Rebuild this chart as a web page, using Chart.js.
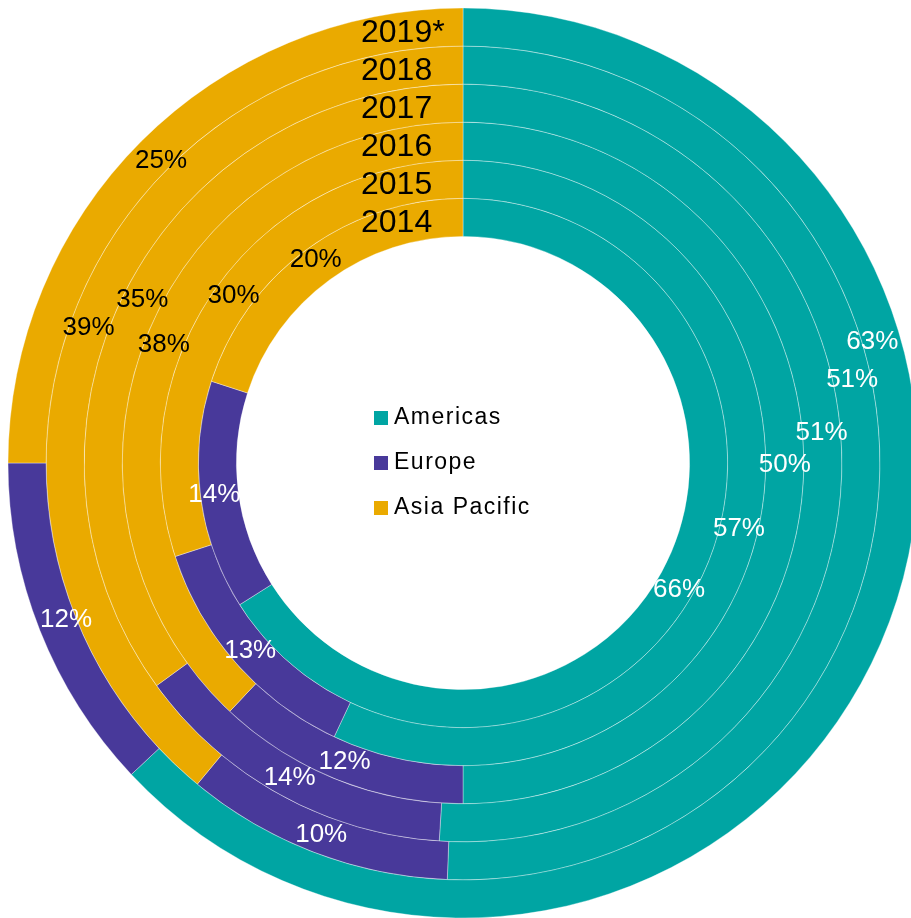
<!DOCTYPE html>
<html>
<head>
<meta charset="utf-8">
<script src="https://cdn.jsdelivr.net/npm/chart.js@4/dist/chart.umd.min.js"></script>
<style>
    html, body { margin: 0; padding: 0; overflow: hidden; background: #fff; }
    #chart { position: absolute; left: 0; top: 0; }
</style>
</head>
<body>
<canvas id="chart" width="926" height="926"></canvas>
<script>
// one ring per year, innermost ring first
const years = ['2014', '2015', '2016', '2017', '2018', '2019*'];
const regions = ['Americas', 'Europe', 'Asia Pacific'];

const americas = [66, 57, 50, 51, 50.6, 63];
const europe = [14, 13, 12, 14, 10.4, 12];
const asiaPacific = [20, 30, 38, 35, 39, 25];

const colors = ['#00a5a3', '#48399a', '#eaaa00'];
const labelColors = ['#ffffff', '#ffffff', '#000000'];

// where along each Americas arc the % label sits (0..1), the others sit in the middle
const americasLabelAt = [0.507, 0.504, 0.502, 0.464, 0.428, 0.324];
// small radial nudge of the % labels per ring, px (outer ring labels are pulled in)
const labelShift = [5, 0, 0, 0, 0, -9];

const FONT = '"Liberation Sans", Arial, sans-serif';

// chart.js draws dataset 0 as the outer ring, so go from 2019* inwards
const datasets = [];
for (let i = years.length - 1; i >= 0; i--) {
    datasets.push({
        label: years[i],
        ring: i,
        data: [americas[i], europe[i], asiaPacific[i]],
        backgroundColor: colors,
        borderColor: 'rgba(255,255,255,0.35)',
        borderWidth: 1,
        labelAt: [americasLabelAt[i], 0.5, 0.5]
    });
}

const ringLabels = {
    id: 'ringLabels',
    afterDatasetsDraw(chart) {
        const ctx = chart.ctx;
        const inner = chart.getDatasetMeta(chart.data.datasets.length - 1).data[0];
        const cx = inner.x, cy = inner.y;

        chart.data.datasets.forEach(function (ds, i) {
            const meta = chart.getDatasetMeta(i);
            meta.data.forEach(function (arc, j) {
                const a = arc.startAngle + ds.labelAt[j] * (arc.endAngle - arc.startAngle);
                const r = (arc.innerRadius + arc.outerRadius) / 2 + labelShift[ds.ring];
                ctx.save();
                ctx.font = '26px ' + FONT;
                ctx.fillStyle = labelColors[j];
                ctx.textAlign = 'center';
                ctx.textBaseline = 'middle';
                ctx.fillText(Math.round(ds.data[j]) + '%', arc.x + r * Math.cos(a), arc.y + r * Math.sin(a));
                ctx.restore();
            });

            // year name at the top of its ring
            const first = meta.data[0];
            const rMid = (first.innerRadius + first.outerRadius) / 2;
            ctx.save();
            ctx.font = '32px ' + FONT;
            ctx.fillStyle = '#000';
            ctx.textAlign = 'left';
            ctx.textBaseline = 'alphabetic';
            ctx.fillText(ds.label, cx - 102, cy - rMid + 15);
            ctx.restore();
        });

        // legend in the hole
        ctx.save();
        ctx.font = '23px ' + FONT;
        if ('letterSpacing' in ctx) ctx.letterSpacing = '1.5px';
        ctx.textBaseline = 'middle';
        ctx.textAlign = 'left';
        regions.forEach(function (name, k) {
            const y = cy + (k - 1) * 45;
            ctx.fillStyle = colors[k];
            ctx.fillRect(cx - 89, y - 7, 14, 14);
            ctx.fillStyle = '#000';
            ctx.fillText(name, cx - 69, y);
        });
        ctx.restore();
    }
};

new Chart(document.getElementById('chart'), {
    type: 'doughnut',
    data: {
        labels: regions,
        datasets: datasets
    },
    options: {
        responsive: false,
        animation: false,
        events: [],
        radius: 455,
        cutout: '49.8%',
        layout: { padding: 0 },
        plugins: {
            legend: { display: false },
            tooltip: { enabled: false }
        }
    },
    plugins: [ringLabels]
});
</script>
</body>
</html>
